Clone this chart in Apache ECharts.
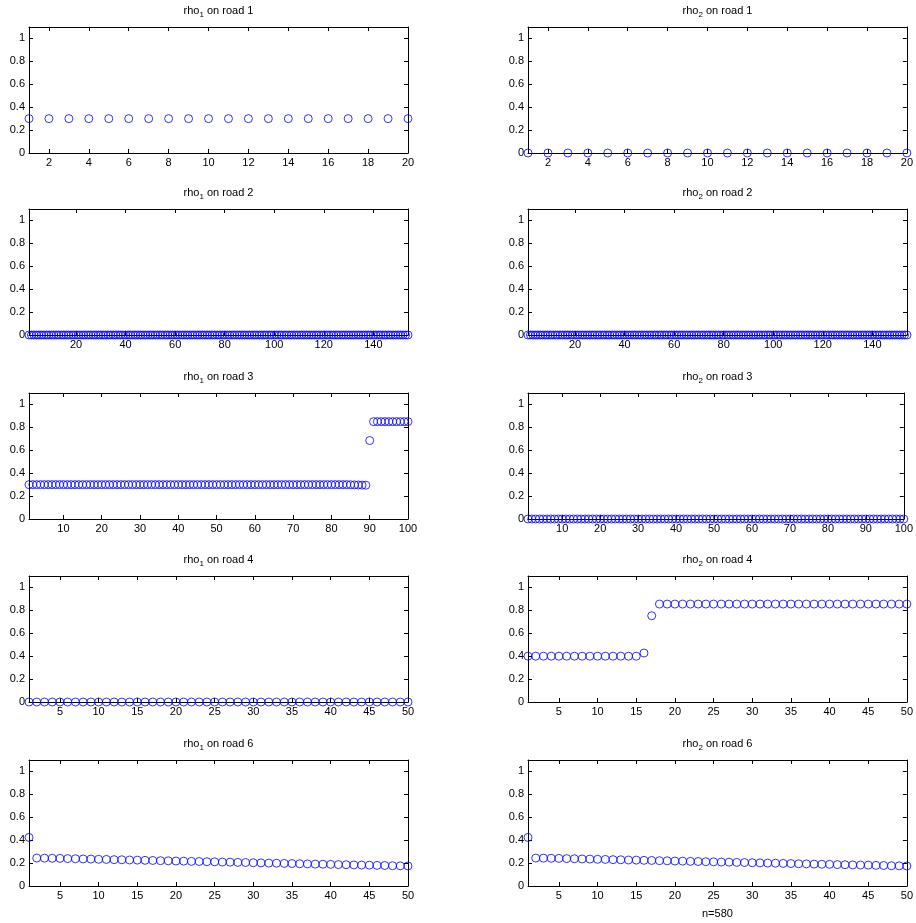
<!DOCTYPE html>
<html>
<head>
<meta charset="utf-8">
<script src="https://cdn.jsdelivr.net/npm/echarts@6/dist/echarts.min.js"></script>
<style>html,body{margin:0;padding:0;background:#fff;}#c{width:916px;height:923px;}</style>
</head>
<body>
<div id="c"></div>
<script>
// ---- data ----
const rho1Road1 = [0.3,0.3,0.3,0.3,0.3,0.3,0.3,0.3,0.3,0.3,0.3,0.3,0.3,0.3,0.3,0.3,0.3,0.3,0.3,0.3];
const rho2Road1 = [0,0,0,0,0,0,0,0,0,0,0,0,0,0,0,0,0,0,0,0];
const rho1Road2 = [
0,0,0,0,0,0,0,0,0,0,0,0,0,0,0,0,0,0,0,0,0,0,0,0,0,0,0,0,0,0,0,0,0,0,0,0,0,0,0,0,
0,0,0,0,0,0,0,0,0,0,0,0,0,0,0,0,0,0,0,0,0,0,0,0,0,0,0,0,0,0,0,0,0,0,0,0,0,0,0,0,
0,0,0,0,0,0,0,0,0,0,0,0,0,0,0,0,0,0,0,0,0,0,0,0,0,0,0,0,0,0,0,0,0,0,0,0,0,0,0,0,
0,0,0,0,0,0,0,0,0,0,0,0,0,0,0,0,0,0,0,0,0,0,0,0,0,0,0,0,0,0,0,0,0,0];
const rho2Road2 = [
0,0,0,0,0,0,0,0,0,0,0,0,0,0,0,0,0,0,0,0,0,0,0,0,0,0,0,0,0,0,0,0,0,0,0,0,0,0,0,0,
0,0,0,0,0,0,0,0,0,0,0,0,0,0,0,0,0,0,0,0,0,0,0,0,0,0,0,0,0,0,0,0,0,0,0,0,0,0,0,0,
0,0,0,0,0,0,0,0,0,0,0,0,0,0,0,0,0,0,0,0,0,0,0,0,0,0,0,0,0,0,0,0,0,0,0,0,0,0,0,0,
0,0,0,0,0,0,0,0,0,0,0,0,0,0,0,0,0,0,0,0,0,0,0,0,0,0,0,0,0,0,0,0,0,0];
const rho1Road3 = [
0.3,0.3,0.3,0.3,0.3,0.3,0.3,0.3,0.3,0.3,0.3,0.3,0.3,0.3,0.3,0.3,0.3,0.3,0.3,0.3,
0.3,0.3,0.3,0.3,0.3,0.3,0.3,0.3,0.3,0.3,0.3,0.3,0.3,0.3,0.3,0.3,0.3,0.3,0.3,0.3,
0.3,0.3,0.3,0.3,0.3,0.3,0.3,0.3,0.3,0.3,0.3,0.3,0.3,0.3,0.3,0.3,0.3,0.3,0.3,0.3,
0.3,0.3,0.3,0.3,0.3,0.3,0.3,0.3,0.3,0.3,0.3,0.3,0.3,0.3,0.3,0.3,0.3,0.3,0.3,0.3,
0.3,0.3,0.3,0.3,0.299,0.298,0.297,0.296,0.295,0.685,
0.85,0.85,0.85,0.85,0.85,0.85,0.85,0.85,0.85,0.85];
const rho2Road3 = [
0,0,0,0,0,0,0,0,0,0,0,0,0,0,0,0,0,0,0,0,0,0,0,0,0,0,0,0,0,0,0,0,0,0,0,0,0,0,0,0,
0,0,0,0,0,0,0,0,0,0,0,0,0,0,0,0,0,0,0,0,0,0,0,0,0,0,0,0,0,0,0,0,0,0,0,0,0,0,0,0,
0,0,0,0,0,0,0,0,0,0,0,0,0,0,0,0,0,0,0,0];
const rho1Road4 = [
0,0,0,0,0,0,0,0,0,0,0,0,0,0,0,0,0,0,0,0,0,0,0,0,0,0,0,0,0,0,0,0,0,0,0,0,0,0,0,0,
0,0,0,0,0,0,0,0,0,0];
const rho2Road4 = [
0.4,0.4,0.4,0.4,0.4,0.4,0.4,0.4,0.4,0.4,0.4,0.4,0.4,0.4,0.4,0.428,0.753,0.855,0.855,0.855,
0.855,0.855,0.855,0.855,0.855,0.855,0.855,0.855,0.855,0.855,0.855,0.855,0.855,0.855,0.855,0.855,0.855,0.855,0.855,0.855,
0.855,0.855,0.855,0.855,0.855,0.855,0.855,0.855,0.855,0.855];
const rho1Road6 = [
0.424,0.244,0.243,0.242,0.241,0.239,0.238,0.236,0.235,0.233,
0.232,0.230,0.229,0.227,0.226,0.224,0.223,0.221,0.220,0.218,
0.217,0.215,0.214,0.212,0.211,0.209,0.208,0.206,0.205,0.203,
0.202,0.200,0.199,0.197,0.196,0.194,0.193,0.191,0.190,0.189,
0.187,0.186,0.184,0.183,0.182,0.180,0.179,0.177,0.176,0.175];
const rho2Road6 = [
0.424,0.244,0.243,0.242,0.241,0.239,0.238,0.236,0.235,0.233,
0.232,0.230,0.229,0.227,0.226,0.224,0.223,0.221,0.220,0.218,
0.217,0.215,0.214,0.212,0.211,0.209,0.208,0.206,0.205,0.203,
0.202,0.200,0.199,0.197,0.196,0.194,0.193,0.191,0.190,0.189,
0.187,0.186,0.184,0.183,0.182,0.180,0.179,0.177,0.176,0.175];

const yTicks = [0, 0.2, 0.4, 0.6, 0.8, 1];
const road1Ticks = [2, 4, 6, 8, 10, 12, 14, 16, 18, 20];
const road2Ticks = [20, 40, 60, 80, 100, 120, 140];
const road3Ticks = [10, 20, 30, 40, 50, 60, 70, 80, 90, 100];
const road4Ticks = [5, 10, 15, 20, 25, 30, 35, 40, 45, 50];
const road6Ticks = [5, 10, 15, 20, 25, 30, 35, 40, 45, 50];
const roadNames = ['1', '2', '3', '4', '6'];
const xLabelText = 'n=580';

const panels = [
  {rho:'1', road:roadNames[0], data:rho1Road1, ticks:road1Ticks, xMax:20},
  {rho:'2', road:roadNames[0], data:rho2Road1, ticks:road1Ticks, xMax:20},
  {rho:'1', road:roadNames[1], data:rho1Road2, ticks:road2Ticks, xMax:154},
  {rho:'2', road:roadNames[1], data:rho2Road2, ticks:road2Ticks, xMax:154},
  {rho:'1', road:roadNames[2], data:rho1Road3, ticks:road3Ticks, xMax:100},
  {rho:'2', road:roadNames[2], data:rho2Road3, ticks:road3Ticks, xMax:100},
  {rho:'1', road:roadNames[3], data:rho1Road4, ticks:road4Ticks, xMax:50},
  {rho:'2', road:roadNames[3], data:rho2Road4, ticks:road4Ticks, xMax:50},
  {rho:'1', road:roadNames[4], data:rho1Road6, ticks:road6Ticks, xMax:50},
  {rho:'2', road:roadNames[4], data:rho2Road6, ticks:road6Ticks, xMax:50}
];

// ---- layout ----
const colLeft = [29, 528];
const plotW = 379;
const rowTop = [27, 209, 393, 576, 760];
const plotH = 126;
const FONT = 'Arial, "Liberation Sans", Helvetica, sans-serif';

const grids = [], xAxes = [], yAxes = [], series = [], graphics = [];
panels.forEach((p, i) => {
  const col = i % 2, row = Math.floor(i / 2);
  const left = colLeft[col], top = rowTop[row];
  grids.push({left: left, top: top, width: plotW, height: plotH, containLabel: false});
  const lineStyle = {color: '#000', width: 1};
  const isLastRight = (i === panels.length - 1);
  xAxes.push({
    type: 'value', gridIndex: i, position: 'bottom', min: 1, max: p.xMax,
    axisLine: {show: true, onZero: false, lineStyle: lineStyle},
    axisTick: {show: true, inside: true, length: 4, lineStyle: lineStyle, customValues: p.ticks},
    axisLabel: {show: true, color: '#000', fontSize: 11, fontFamily: FONT, margin: 4, customValues: p.ticks},
    splitLine: {show: false},
    name: isLastRight ? xLabelText : '', nameLocation: 'middle', nameGap: 22,
    nameTextStyle: {color: '#000', fontSize: 11, fontFamily: FONT}
  });
  xAxes.push({
    type: 'value', gridIndex: i, position: 'top', min: 1, max: p.xMax,
    axisLine: {show: true, onZero: false, lineStyle: lineStyle},
    axisTick: {show: true, inside: true, length: 4, lineStyle: lineStyle, customValues: p.ticks},
    axisLabel: {show: false},
    splitLine: {show: false}
  });
  yAxes.push({
    type: 'value', gridIndex: i, position: 'left', min: 0, max: 1.1,
    axisLine: {show: true, onZero: false, lineStyle: lineStyle},
    axisTick: {show: true, inside: true, length: 4, lineStyle: lineStyle, customValues: yTicks},
    axisLabel: {show: true, color: '#000', fontSize: 11, fontFamily: FONT, margin: 4, customValues: yTicks},
    splitLine: {show: false}
  });
  yAxes.push({
    type: 'value', gridIndex: i, position: 'right', min: 0, max: 1.1,
    axisLine: {show: true, onZero: false, lineStyle: lineStyle},
    axisTick: {show: true, inside: true, length: 4, lineStyle: lineStyle, customValues: yTicks},
    axisLabel: {show: false},
    splitLine: {show: false}
  });
  series.push({
    type: 'scatter', xAxisIndex: 2 * i, yAxisIndex: 2 * i,
    data: p.data.map((v, k) => [k + 1, v]),
    symbol: 'circle', symbolSize: 8, clip: false,
    itemStyle: {color: 'rgba(0,0,0,0)', borderColor: '#0000ff', borderWidth: 1},
    emphasis: {disabled: true}, silent: true
  });
  graphics.push({
    type: 'text', x: left + plotW / 2, y: top - 16, silent: true,
    style: {
      text: '{a|rho}{s|' + p.rho + '}{a| on road ' + p.road + '}',
      align: 'center', verticalAlign: 'middle', fill: '#000',
      fontSize: 11, fontFamily: FONT,
      rich: {
        a: {fontSize: 11, fontFamily: FONT, fill: '#000', lineHeight: 16},
        s: {fontSize: 8, fontFamily: FONT, fill: '#000', lineHeight: 8, padding: [8, 0, 0, 0]}
      }
    }
  });
});

const chart = echarts.init(document.getElementById('c'), null, {renderer: 'canvas'});
chart.setOption({
  backgroundColor: '#fff',
  animation: false,
  grid: grids, xAxis: xAxes, yAxis: yAxes, series: series,
  graphic: graphics
});
</script>
</body>
</html>
